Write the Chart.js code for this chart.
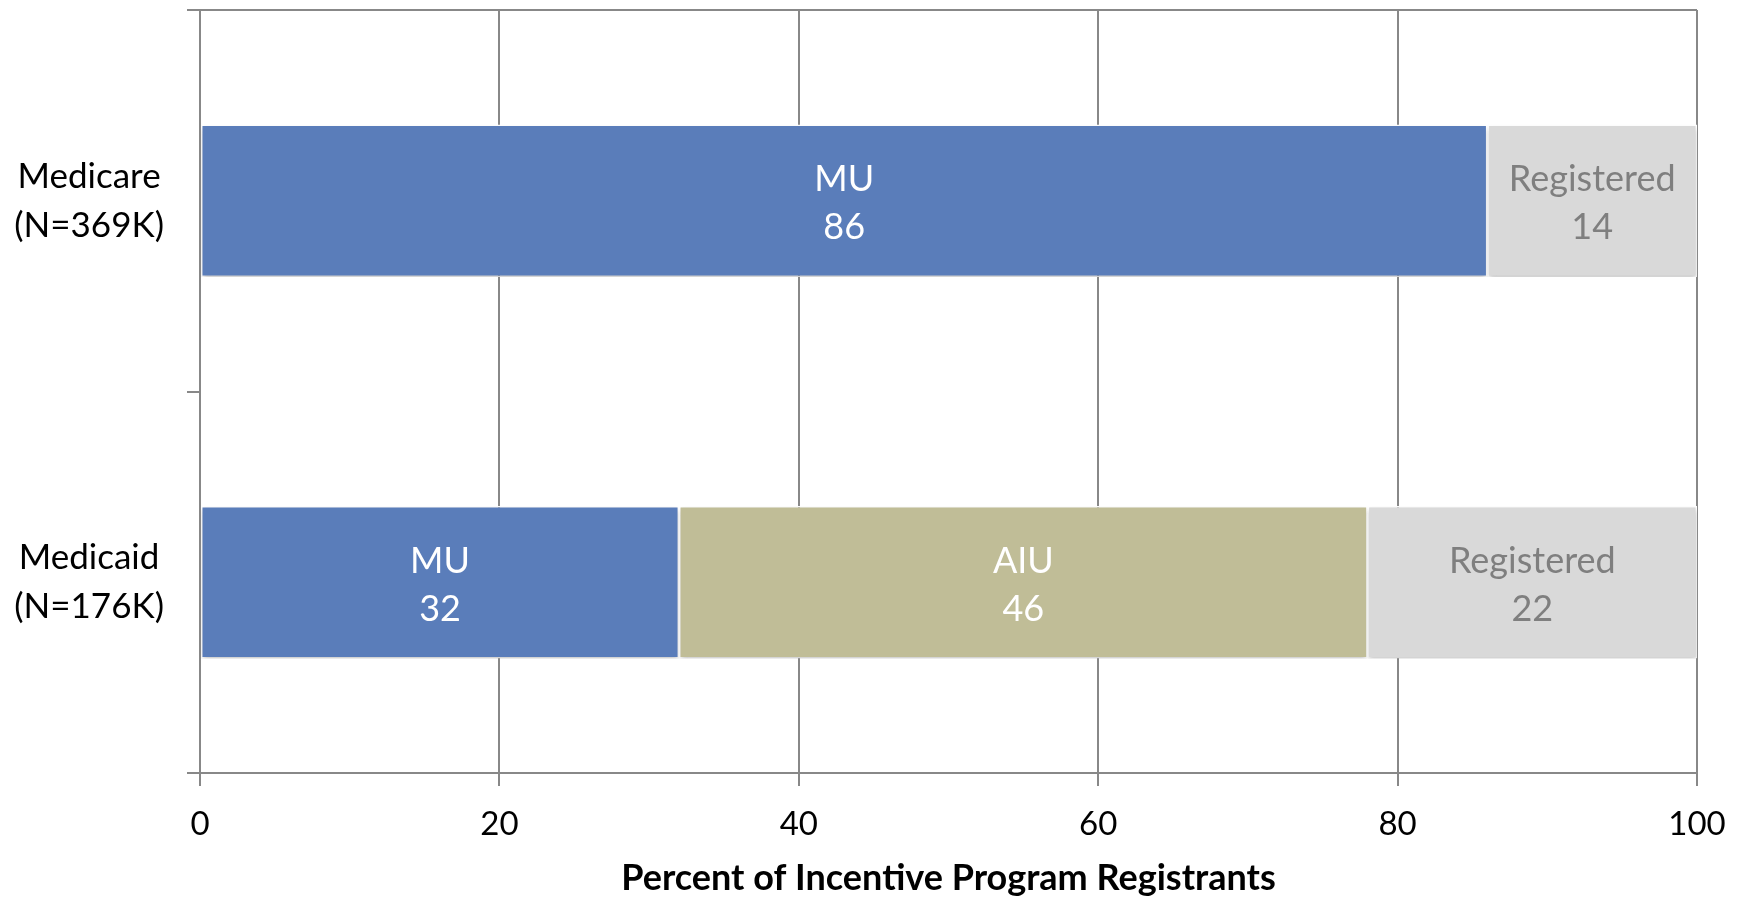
<!DOCTYPE html>
<html>
<head>
<meta charset="utf-8">
<script src="https://cdn.jsdelivr.net/npm/chart.js@4.4.0/dist/chart.umd.min.js"></script>
<style>
  html, body { margin: 0; padding: 0; background: #fff; }
  #wrap { width: 1745px; height: 898px; }
</style>
</head>
<body>
<div id="wrap"><canvas id="chart"></canvas></div>
<script>
// categories and values
const programs = [["Medicare", "(N=369K)"], ["Medicaid", "(N=176K)"]];
const muValues = [86, 32];
const aiuValues = [null, 46];
const registeredValues = [14, 22];
const xTicks = [0, 20, 40, 60, 80, 100];

const gridGray = "#888888";
const fontFamily = "Lato, 'Open Sans', sans-serif";

// draws "Label\nvalue" in the middle of each bar segment
const segmentLabels = {
  id: "segmentLabels",
  afterDatasetsDraw(chart) {
    const ctx = chart.ctx;
    ctx.save();
    ctx.font = "36px " + fontFamily;
    ctx.textAlign = "center";
    ctx.textBaseline = "middle";
    chart.data.datasets.forEach((ds, i) => {
      const meta = chart.getDatasetMeta(i);
      meta.data.forEach((bar, j) => {
        const v = ds.data[j];
        if (v == null) return;
        const cx = (bar.x + bar.base) / 2;
        ctx.fillStyle = ds.labelColor;
        ctx.fillText(ds.label, cx, bar.y - 21);
        ctx.fillText(String(v), cx, bar.y + 27);
      });
    });
    ctx.restore();
  }
};

// soft shadow under the bars
const barShadow = {
  id: "barShadow",
  beforeDatasetsDraw(chart) {
    const ctx = chart.ctx;
    ctx.save();
    ctx.shadowColor = "rgba(0,0,0,0.22)";
    ctx.shadowBlur = 5;
    ctx.shadowOffsetY = 3;
  },
  afterDatasetsDraw(chart) {
    chart.ctx.restore();
  }
};

function makeSet(label, data, color, labelColor) {
  return {
    label: label,
    data: data,
    backgroundColor: color,
    borderColor: "#ffffff",
    borderWidth: 1.5,
    borderSkipped: false,
    barPercentage: 0.4,
    categoryPercentage: 1,
    labelColor: labelColor
  };
}

new Chart(document.getElementById("chart"), {
  type: "bar",
  data: {
    labels: programs,
    datasets: [
      makeSet("MU", muValues, "#5a7dba", "#ffffff"),
      makeSet("AIU", aiuValues, "#c0bd97", "#ffffff"),
      makeSet("Registered", registeredValues, "#d9d9d9", "#7f7f7f")
    ]
  },
  options: {
    indexAxis: "y",
    responsive: true,
    maintainAspectRatio: false,
    animation: false,
    layout: {
      padding: { top: 10, right: 48, bottom: 0, left: 0 }
    },
    plugins: {
      legend: { display: false },
      tooltip: { enabled: false }
    },
    scales: {
      x: {
        stacked: true,
        min: 0,
        max: 100,
        afterBuildTicks: (scale) => { scale.ticks = xTicks.map((v) => ({ value: v })); },
        afterFit: (scale) => {
          scale.height = 125;
          scale.paddingLeft = 0;
          scale.paddingRight = 0;
        },
        grid: {
          color: gridGray,
          lineWidth: 2,
          tickLength: 13
        },
        border: { color: gridGray, width: 2 },
        ticks: {
          color: "#000",
          padding: 19,
          maxRotation: 0,
          font: { family: fontFamily, size: 33 }
        },
        title: {
          display: true,
          text: "Percent of Incentive Program Registrants",
          color: "#000",
          padding: { top: 0, bottom: 0 },
          font: { family: fontFamily, size: 36, weight: "bold", lineHeight: 1.1 }
        }
      },
      y: {
        stacked: true,
        afterFit: (scale) => {
          scale.width = 200;
          scale.paddingTop = 0;
          scale.paddingBottom = 0;
        },
        grid: {
          offset: true,
          lineWidth: 2,
          tickLength: 13,
          color: (c) => (c.index === 0 ? gridGray : "rgba(0,0,0,0)"),
          tickColor: gridGray
        },
        border: { color: gridGray, width: 2 },
        ticks: {
          color: "#000",
          crossAlign: "center",
          padding: 23,
          font: { family: fontFamily, size: 35, lineHeight: 1.4 }
        }
      }
    }
  },
  plugins: [barShadow, segmentLabels]
});
</script>
</body>
</html>
